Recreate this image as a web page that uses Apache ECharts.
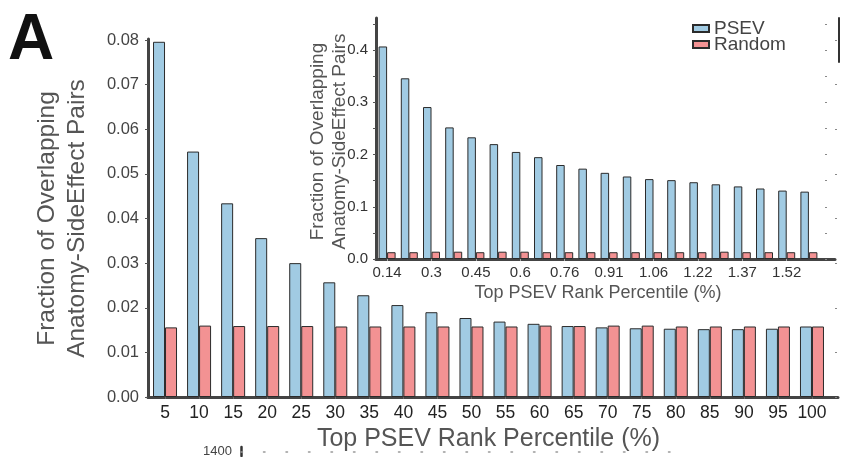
<!DOCTYPE html>
<html><head><meta charset="utf-8">
<script src="https://cdn.jsdelivr.net/npm/echarts@6/dist/echarts.min.js"></script>
<style>html,body{margin:0;padding:0;background:#fff}#c{width:841px;height:457px}</style>
</head><body><div id="c"></div>
<script>
// ---- data ----
const mainCategories = ['5','10','15','20','25','30','35','40','45','50','55','60','65','70','75','80','85','90','95','100'];
const mainPSEV   = [0.0796,0.0550,0.0434,0.0356,0.0300,0.0257,0.0228,0.0206,0.0190,0.0177,0.0169,0.0164,0.0159,0.0156,0.0154,0.0153,0.0152,0.0152,0.0153,0.0158];
const mainRandom = [0.0156,0.0160,0.0159,0.0159,0.0159,0.0158,0.0158,0.0158,0.0158,0.0158,0.0158,0.0160,0.0159,0.0160,0.0160,0.0158,0.0158,0.0158,0.0158,0.0158];

const insetCategories = ['0.14','0.22','0.3','0.37','0.45','0.53','0.6','0.68','0.76','0.84','0.91','0.99','1.06','1.14','1.22','1.29','1.37','1.45','1.52','1.6'];
const insetPSEV   = [0.407,0.346,0.291,0.252,0.233,0.220,0.205,0.195,0.180,0.173,0.165,0.158,0.153,0.151,0.147,0.143,0.139,0.135,0.131,0.129];
const insetRandom = [0.013,0.013,0.014,0.014,0.013,0.014,0.014,0.013,0.013,0.013,0.013,0.013,0.013,0.013,0.013,0.014,0.013,0.013,0.013,0.013];

const seriesNames = ['PSEV','Random'];
const xTitle = 'Top PSEV Rank Percentile (%)';
const yTitle = 'Fraction of Overlapping\nAnatomy-SideEffect Pairs';
const panelLetter = 'A';
const lowerPanelTick = '1400';

// ---- styles ----
const FF = 'Liberation Sans';
const BLUE = '#a1cbe3';
const RED = '#f39293';
const AXIS = '#444';

const chart = echarts.init(document.getElementById('c'), null, {renderer:'canvas'});

function decorX(grid, opts) {
  return Object.assign({type:'value', gridIndex:grid, min:0, max:1, axisLabel:{show:false}, axisTick:{show:false}, splitLine:{show:false},
    axisLine:{show:true, onZero:false, lineStyle:{color:AXIS, width:3}}}, opts||{});
}
function decorY(grid, opts) {
  return Object.assign({type:'value', gridIndex:grid, min:0, max:1, axisLabel:{show:false}, axisTick:{show:false}, splitLine:{show:false},
    axisLine:{show:true, onZero:false, lineStyle:{color:AXIS, width:3}}}, opts||{});
}

const barBorder = {borderColor:'#2b2b2b', borderWidth:1};

const option = {
  animation:false,
  backgroundColor:'#fff',
  textStyle:{fontFamily:FF},
  grid:[
    {left:148, right:12, top:40, bottom:59.5},      // 0 main
    {left:376, right:21, top:24, bottom:198},       // 1 inset
    {left:148, right:3, top:39, bottom:59.5},       // 2 main axis lines
    {left:376, right:6, top:18, bottom:198},        // 3 inset axis lines
    {left:839, width:1, top:18, bottom:395},        // 4 right edge line
    {left:241, width:450, top:447, height:9}        // 5 lower panel stub
  ],
  legend:[
    {data:[seriesNames[0]], left:692, top:19, icon:'rect', itemWidth:16, itemHeight:7, padding:0,
     textStyle:{fontSize:19, color:'#444', fontFamily:FF}},
    {data:[seriesNames[1]], left:692, top:35, icon:'rect', itemWidth:16, itemHeight:7, padding:0,
     textStyle:{fontSize:19, color:'#444', fontFamily:FF}}
  ],
  xAxis:[
    {type:'category', gridIndex:0, data:mainCategories,
     axisLine:{show:false}, axisTick:{show:true, alignWithLabel:true, length:2, lineStyle:{color:'#999'}},
     axisLabel:{fontSize:17.5, color:'#222', margin:7, interval:0, fontFamily:FF},
     name:xTitle, nameLocation:'middle', nameGap:30, nameMoveOverlap:false,
     nameTextStyle:{fontSize:25, color:'#555', fontFamily:FF}},
    {type:'category', gridIndex:1, data:insetCategories,
     axisLine:{show:false}, axisTick:{show:true, alignWithLabel:true, length:2, lineStyle:{color:'#bbb'}},
     axisLabel:{fontSize:15, color:'#333', margin:6, interval:1, fontFamily:FF},
     name:xTitle, nameLocation:'middle', nameGap:25, nameMoveOverlap:false,
     nameTextStyle:{fontSize:18, color:'#555', fontFamily:FF}},
    decorX(2),
    decorX(3),
    {type:'category', gridIndex:0, position:'top', data:mainCategories, axisLine:{show:false},
     axisTick:{show:true, inside:true, alignWithLabel:true, length:2, lineStyle:{color:'#666'}}, axisLabel:{show:false}},
    {type:'category', gridIndex:1, position:'top', data:insetCategories, axisLine:{show:false},
     axisTick:{show:true, inside:true, alignWithLabel:true, length:2, lineStyle:{color:'#aaa'}}, axisLabel:{show:false}},
    decorX(4, {axisLine:{show:false}}),
    decorX(5, {axisLine:{show:true, onZero:true, lineStyle:{color:'#999', width:1.5, type:[1.5,21]}}})
  ],
  yAxis:[
    {type:'value', gridIndex:0, min:0, max:0.08, interval:0.01, splitLine:{show:false},
     axisLine:{show:false}, axisTick:{show:true, length:3, lineStyle:{color:'#555'}},
     axisLabel:{fontSize:16.5, color:'#444', margin:9, fontFamily:FF, formatter:v=>v.toFixed(2)},
     name:yTitle, nameLocation:'middle', nameRotate:90, nameGap:56, nameMoveOverlap:false,
     nameTextStyle:{fontSize:24.5, lineHeight:30, color:'#555', fontFamily:FF, align:'center'}},
    {type:'value', gridIndex:1, min:0, max:0.45, interval:0.05, splitLine:{show:false},
     axisLine:{show:false}, axisTick:{show:true, length:3, lineStyle:{color:'#555'}},
     axisLabel:{fontSize:15, color:'#333', margin:8, fontFamily:FF,
       formatter:v=> (Math.round(v*100)%10===0 ? v.toFixed(1) : '')},
     name:yTitle, nameLocation:'middle', nameRotate:90, nameGap:25, nameMoveOverlap:false,
     nameTextStyle:{fontSize:19, lineHeight:22, color:'#555', fontFamily:FF, align:'center'}},
    decorY(2),
    decorY(3),
    {type:'value', gridIndex:0, position:'right', offset:8, min:0, max:0.08, interval:0.01, splitLine:{show:false},
     axisLine:{show:false}, axisTick:{show:true, inside:true, length:2, lineStyle:{color:'#888'}}, axisLabel:{show:false}},
    {type:'value', gridIndex:1, position:'right', offset:7, min:0, max:0.45, interval:0.05, splitLine:{show:false},
     axisLine:{show:false}, axisTick:{show:true, inside:true, length:2, lineStyle:{color:'#888'}}, axisLabel:{show:false}},
    decorY(4, {axisLine:{show:true, lineStyle:{color:'#333', width:2}}}),
    decorY(5, {min:-1, max:1, axisLine:{show:true, lineStyle:{color:'#333', width:2.5}}})
  ],
  series:[
    {name:seriesNames[0], type:'bar', xAxisIndex:0, yAxisIndex:0, data:mainPSEV, barWidth:12, barGap:'0%',
     itemStyle:Object.assign({color:BLUE}, barBorder)},
    {name:seriesNames[1], type:'bar', xAxisIndex:0, yAxisIndex:0, data:mainRandom, barWidth:12, barGap:'0%',
     itemStyle:Object.assign({color:RED}, barBorder)},
    {name:seriesNames[0], type:'bar', xAxisIndex:1, yAxisIndex:1, data:insetPSEV, barWidth:8.5, barGap:'0%',
     itemStyle:Object.assign({color:BLUE}, barBorder)},
    {name:seriesNames[1], type:'bar', xAxisIndex:1, yAxisIndex:1, data:insetRandom, barWidth:8.5, barGap:'0%',
     itemStyle:Object.assign({color:RED}, barBorder)}
  ],
  graphic:[
    {type:'text', left:8, top:9, style:{text:panelLetter, fontSize:64, fontWeight:'bold', fill:'#111', fontFamily:FF}},
    {type:'text', left:203, top:445, style:{text:lowerPanelTick, fontSize:13, fill:'#444', fontFamily:FF}}
  ]
};
chart.setOption(option);
</script>
</body></html>
